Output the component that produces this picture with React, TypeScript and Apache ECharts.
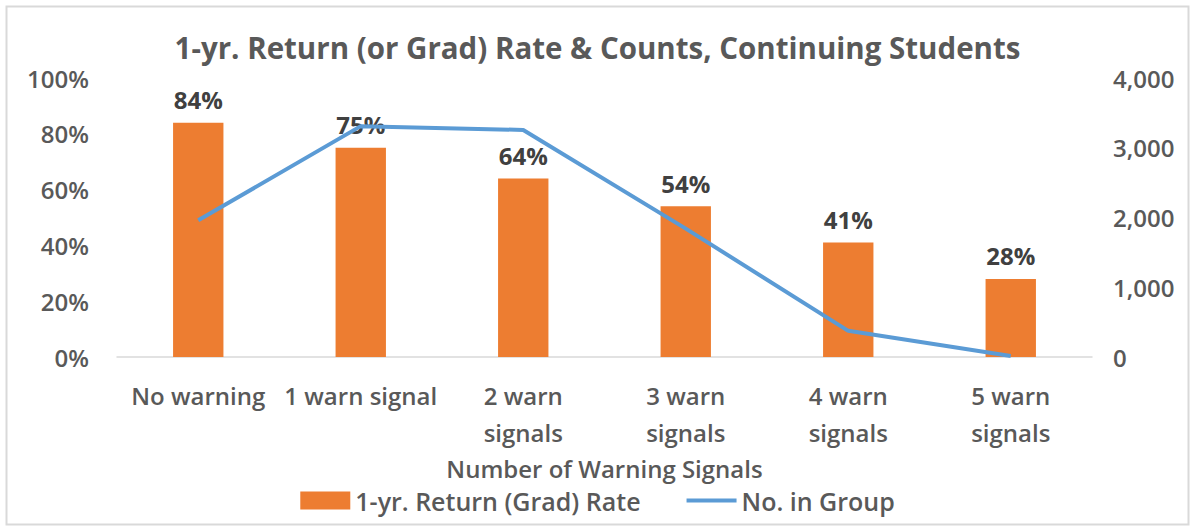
import React, { useEffect, useRef } from "react";
import * as echarts from "echarts";

const categories = ["No warning", "1 warn signal", "2 warn signals", "3 warn signals", "4 warn signals", "5 warn signals"];
const returnRate = [84, 75, 64, 54, 41, 28];
const groupCounts = [1960, 3310, 3255, 1840, 375, 15];
const leftTicks = [0, 20, 40, 60, 80, 100];
const rightTicks = [0, 1000, 2000, 3000, 4000];

const FONT = "'Open Sans', 'Liberation Sans', sans-serif";
const TXT = "#595959";
const FS = 24;

export default function App() {
  const ref = useRef<HTMLDivElement>(null);
  useEffect(() => {
    if (!ref.current) return;
    const chart = echarts.init(ref.current, undefined, { renderer: "svg" });
    chart.setOption({
      animation: false,
      textStyle: { fontFamily: FONT },
      title: {
        text: "1-yr. Return (or Grad) Rate & Counts, Continuing Students",
        left: "center",
        top: 27,
        textStyle: { fontFamily: FONT, fontSize: 29.5, fontWeight: "bold", color: TXT },
      },
      graphic: [
        {
          type: "rect",
          shape: { x: 6.5, y: 6.5, width: 1182, height: 518 },
          style: { fill: "none", stroke: "#d9d9d9", lineWidth: 2 },
          silent: true,
        },
      ],
      legend: {
        top: 483,
        left: "center",
        itemWidth: 50,
        itemHeight: 18,
        itemGap: 46,
        textStyle: { fontFamily: FONT, fontSize: 25, fontWeight: 600, color: TXT },
        data: [
          { name: "1-yr. Return (Grad) Rate", icon: "rect" },
          { name: "No. in Group", icon: "path://M0,0 L50,0 L50,4 L0,4 Z" },
        ],
      },
      grid: { left: 117, right: 103, top: 78, bottom: 174 },
      xAxis: {
        type: "category",
        data: categories,
        name: "Number of Warning Signals",
        nameLocation: "middle",
        nameGap: 99,
        nameTextStyle: { fontFamily: FONT, fontSize: FS, fontWeight: 600, color: TXT },
        axisLine: { show: true, lineStyle: { color: "#d9d9d9", width: 1.5 } },
        axisTick: { show: false },
        axisLabel: {
          interval: 0,
          margin: 20,
          fontFamily: FONT,
          fontSize: FS,
          fontWeight: 600,
          color: TXT,
          lineHeight: 37,
          formatter: (v: string) => v.replace(" signals", "\nsignals"),
        },
      },
      yAxis: [
        {
          type: "value",
          min: 0,
          max: 100,
          interval: 20,
          splitLine: { show: false },
          axisLine: { show: false },
          axisTick: { show: false },
          axisLabel: {
            margin: 28,
            fontFamily: FONT,
            fontSize: FS,
            fontWeight: 600,
            color: TXT,
            formatter: (v: number) => (leftTicks.includes(v) ? v + "%" : ""),
          },
        },
        {
          type: "value",
          min: 0,
          max: 4000,
          interval: 1000,
          splitLine: { show: false },
          axisLine: { show: false },
          axisTick: { show: false },
          axisLabel: {
            margin: 21,
            fontFamily: FONT,
            fontSize: FS,
            fontWeight: 600,
            color: TXT,
            formatter: (v: number) => (rightTicks.includes(v) ? v.toLocaleString("en-US") : ""),
          },
        },
      ],
      series: [
        {
          name: "1-yr. Return (Grad) Rate",
          type: "bar",
          data: returnRate,
          yAxisIndex: 0,
          barWidth: "31%",
          itemStyle: { color: "#ED7D31" },
          label: {
            show: true,
            position: "top",
            distance: 11,
            formatter: "{c}%",
            fontFamily: FONT,
            fontSize: FS,
            fontWeight: "bold",
            color: "#404040",
          },
          z: 2,
        },
        {
          name: "No. in Group",
          type: "line",
          data: groupCounts,
          yAxisIndex: 1,
          symbol: "none",
          showSymbol: false,
          lineStyle: { color: "#5B9BD5", width: 4 },
          itemStyle: { color: "#5B9BD5" },
          z: 3,
        },
      ],
    });
    return () => chart.dispose();
  }, []);
  return (
    <div
      ref={ref}
      style={{ position: "absolute", left: 0, top: 0, width: 1195, height: 531 }}
    />
  );
}
